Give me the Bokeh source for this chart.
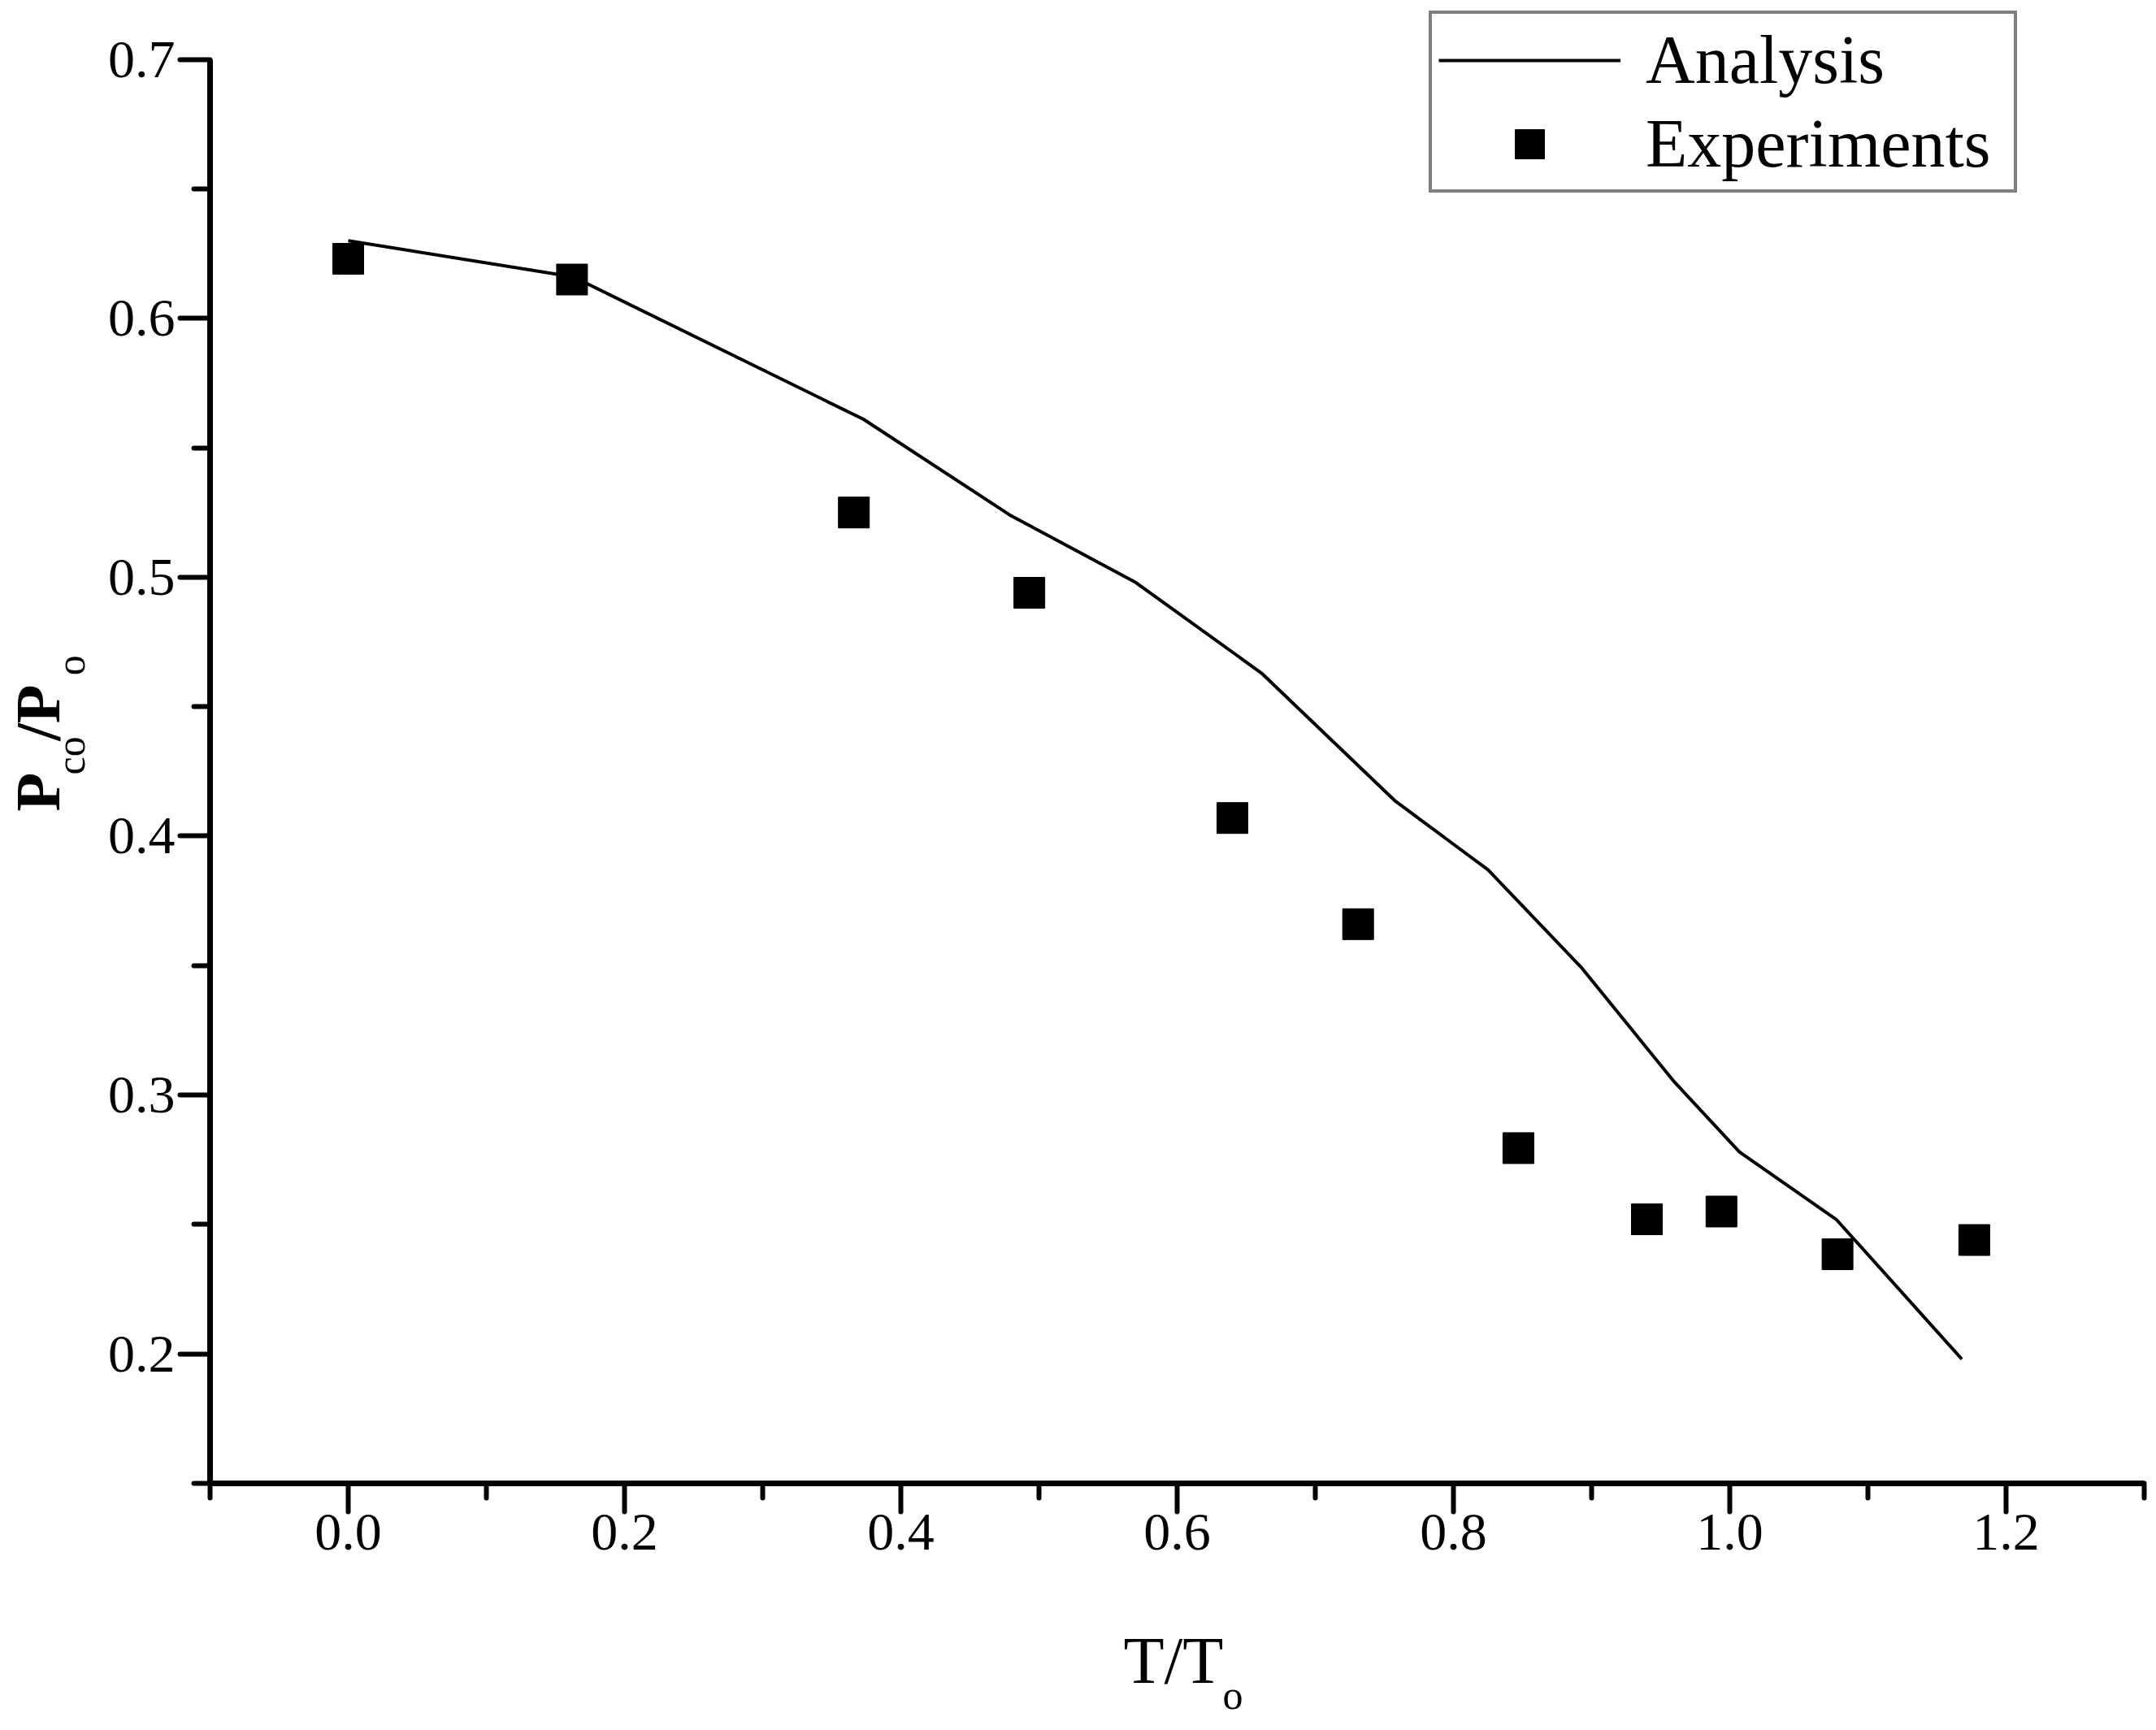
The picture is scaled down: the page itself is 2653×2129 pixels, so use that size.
from bokeh.plotting import figure
from bokeh.models import FixedTicker, Legend, LegendItem, Range1d, Title
from bokeh.embed import file_html
from bokeh.resources import INLINE

# ---- data ----
analysis_x = [0.0, 0.163, 0.373, 0.479, 0.570, 0.661, 0.758, 0.825, 0.893, 0.960, 1.007, 1.077, 1.168]
analysis_y = [0.630, 0.616, 0.561, 0.524, 0.498, 0.463, 0.4135, 0.387, 0.349, 0.305, 0.278, 0.252, 0.198]

exp_x = [0.0, 0.162, 0.366, 0.493, 0.640, 0.731, 0.847, 0.940, 0.994, 1.078, 1.177]
exp_y = [0.623, 0.615, 0.525, 0.494, 0.407, 0.366, 0.2795, 0.252, 0.255, 0.2385, 0.244]

x_major = [0.0, 0.2, 0.4, 0.6, 0.8, 1.0, 1.2]
x_labels = ["0.0", "0.2", "0.4", "0.6", "0.8", "1.0", "1.2"]
x_minor = [-0.1, 0.1, 0.3, 0.5, 0.7, 0.9, 1.1, 1.3]

y_major = [0.2, 0.3, 0.4, 0.5, 0.6, 0.7]
y_labels = ["0.2", "0.3", "0.4", "0.5", "0.6", "0.7"]
y_minor = [0.15, 0.25, 0.35, 0.45, 0.55, 0.65]

x_lo, x_hi = -0.1, 1.3
y_lo, y_hi = 0.15, 0.7
y_frame_top = 0.7203   # headroom above the axis end for the legend box

FONT = "Liberation Serif"
NB = "\u00a0"

p = figure(width=2645, height=2121,
           x_range=Range1d(x_lo, x_hi), y_range=Range1d(y_lo, y_frame_top),
           output_backend="svg", toolbar_location=None,
           min_border_left=258, min_border_right=7,
           min_border_top=8, min_border_bottom=296)
p.grid.visible = False
p.outline_line_color = None
p.background_fill_color = "white"
p.border_fill_color = "white"

line_r = p.line(analysis_x, analysis_y, line_color="black", line_width=4)
sc_r = p.scatter(exp_x, exp_y, marker="square", size=38,
                 fill_color="black", line_color="black")

xa = p.xaxis[0]
ya = p.yaxis[0]
xa.ticker = FixedTicker(ticks=x_major, minor_ticks=x_minor)
ya.ticker = FixedTicker(ticks=y_major, minor_ticks=y_minor)
xa.major_label_overrides = {v: s for v, s in zip(x_major, x_labels)}
ya.major_label_overrides = {v: s for v, s in zip(y_major, y_labels)}
xa.bounds = (x_lo, x_hi)
ya.bounds = (y_lo, y_hi)

for ax in (xa, ya):
    ax.axis_line_width = 7
    ax.axis_line_color = "black"
    ax.major_tick_line_width = 6
    ax.minor_tick_line_width = 6
    ax.major_tick_line_color = "black"
    ax.minor_tick_line_color = "black"
    ax.major_tick_line_cap = "round"
    ax.minor_tick_line_cap = "round"
    ax.major_tick_in = 0
    ax.minor_tick_in = 0
    ax.major_label_text_font = FONT
    ax.major_label_text_font_size = "66px"
    ax.major_label_text_color = "black"
    ax.axis_label = None

xa.major_tick_out = 35
xa.minor_tick_out = 18
ya.major_tick_out = 37
ya.minor_tick_out = 20
xa.major_label_standoff = 3
ya.major_label_standoff = 6

# ---- axis titles, built from Titles so that subscripts sit low ----
def title(text, side, size, offset, standoff, bold=False):
    t = Title(text=text, align="left", offset=offset, standoff=standoff,
              text_font=FONT, text_font_size=size, text_color="black",
              text_font_style="bold" if bold else "normal")
    p.add_layout(t, side)
    return t

# x axis: "T/T" with subscript "o" (negative standoffs keep the panel small)
title("T/T", "below", "82px", 1124, -358)
title("o", "below", "50px", 1246, -408)

# y axis: subscripts layer (nearer the axis) first, then main layer
title("co" + NB * 6 + "o", "left", "50px", 872, 29)
title("P" + NB * 2 + "/P", "left", "78px", 827, -95, bold=True)

# ---- legend ----
legend = Legend(items=[LegendItem(label="Analysis", renderers=[line_r]),
                       LegendItem(label="Experiments", renderers=[sc_r])],
                location=(1500, 1588))
legend.padding = 8
legend.spacing = 6
legend.margin = 0
legend.glyph_width = 224
legend.glyph_height = 90
legend.label_height = 90
legend.label_width = 445
legend.label_standoff = 31
legend.label_text_font = FONT
legend.label_text_font_size = "84px"
legend.label_text_color = "black"
legend.border_line_color = "black"
legend.border_line_width = 4
legend.background_fill_color = "white"
legend.background_fill_alpha = 1.0
p.add_layout(legend)

open("out.html", "w").write(file_html(p, INLINE))
